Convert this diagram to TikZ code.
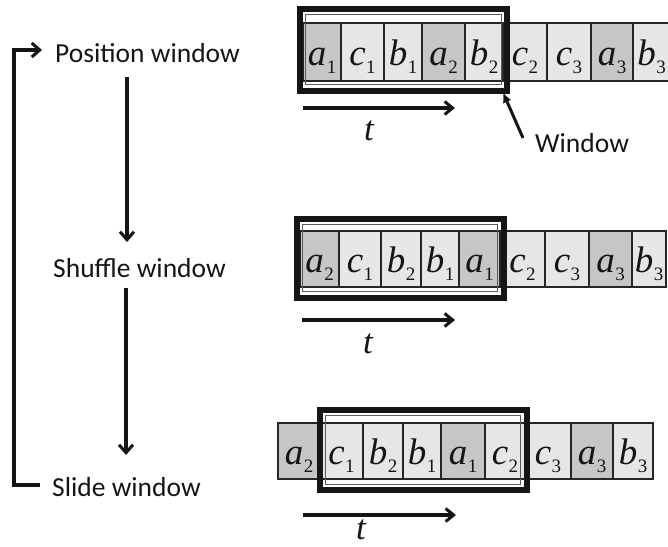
\documentclass[tikz,border=0pt]{standalone}
\usepackage{fontspec}
\setmainfont{Carlito}
\newfontfamily\cellfont{Liberation Serif}
\usetikzlibrary{arrows.meta,calc}

\definecolor{ink}{HTML}{151515}
\definecolor{cellline}{HTML}{262626}
\definecolor{cellA}{HTML}{C6C6C6}
\definecolor{cellB}{HTML}{E6E6E6}

% an item symbol: italic letter with an upright index below
\newcommand\itemsym[2]{{\cellfont\fontsize{37}{40}\selectfont\itshape #1}\kern0.5pt\raisebox{-8pt}{\cellfont\fontsize{19}{20}\selectfont #2}}

% one row of the sequence: name, top, bottom, list of left/right/letter/index/fill
\newcommand\seqrow[4]{%
  \foreach \l/\r/\v/\s/\f [count=\i] in {#4} {
    \node[cell, fill=\f, minimum width={(\r-\l)*1pt}, minimum height={(#3-#2)*1pt}]
      (#1c\i) at ({(\l+\r)/2},{(#2+#3)/2}) {};
    \node[sym, anchor=base] (#1s\i) at ({(\l+\r)/2},{(#2+#3)/2+13}) {\itemsym{\v}{\s}};
  }}

\tikzset{
  cell/.style={draw=cellline, line width=1.2pt, inner sep=0pt, outer sep=0pt},
  sym/.style={inner sep=0pt, text=ink},
  window/.style={draw=ink, line width=6pt, inner sep=0pt, outer sep=0pt},
  lbl/.style={inner sep=0pt, text=ink, font=\fontsize{27.5}{32}\selectfont},
  tlbl/.style={inner sep=0pt, text=ink, font=\cellfont\fontsize{35}{38}\selectfont\itshape},
  flow/.style={draw=ink, line width=3.2pt, -{Straight Barb[length=8pt,width=14pt,line width=3pt]}},
  tarrow/.style={draw=ink, line width=3.2pt, -{Straight Barb[length=8pt,width=13pt,line width=3pt]}},
  pointer/.style={draw=ink, line width=3pt, -{Latex[length=10pt,width=9pt]}},
}

% the window frame with its thin inner rule
\newcommand\windowframe[5]{%
  \node[window, minimum width={(#4-#2)*1pt}, minimum height={(#5-#3)*1pt}]
    (#1) at ({(#2+#4)/2},{(#3+#5)/2}) {};
  \draw[ink!70, line width=0.9pt] ($(#1.north west)+(6,6)$) rectangle ($(#1.south east)+(-6,-6)$);
}

\begin{document}
\begin{tikzpicture}[x=1pt, y=-1pt]
\useasboundingbox (0,0) rectangle (668,546);
\clip (0,0) rectangle (668,546);

% ---- steps on the left ----
\node[lbl, anchor=base west] (pos)   at (55,62)  {Position window};
\node[lbl, anchor=base west] (shuf)  at (53,277) {Shuffle window};
\node[lbl, anchor=base west] (slide) at (52,496) {Slide window};
\coordinate (axis) at (127,0);

\draw[flow] ($(pos.base -| axis)+(0,15)$) -- ($(shuf.base -| axis)+(0,-35)$);
\draw[flow] ($(shuf.base -| axis)+(-1,11)$) -- ($(slide.base -| axis)+(-1,-41)$);
\draw[flow, line join=miter] ($(slide.base west)+(-12,-11)$) -- ++(-26,0)
  |- ($(pos.base west)+(-13,-12)$);

% ---- row 1: window in its first position ----
\seqrow{ra}{23}{81}{303/341/a/1/cellA, 341/384/c/1/cellB, 384/422/b/1/cellB,
  422/465/a/2/cellA, 465/503/b/2/cellB, 503/547/c/2/cellB, 547/591/c/3/cellB,
  591/633/a/3/cellA, 633/670/b/3/cellB}
\windowframe{wa}{299.5}{8.5}{507}{90.5}
\coordinate (tas) at (303,108);
\coordinate (tae) at (455,108);
\draw[tarrow] (tas) -- (tae);
\node[tlbl, anchor=base] (ta) at (369,140) {t};

\node[lbl, anchor=base west] (winlbl) at (535,152) {Window};
\draw[pointer] ($(winlbl.base west)+(-12,-14)$) -- ($(wa.south east)+(-4,2)$);

% ---- row 2: window contents shuffled ----
\seqrow{rb}{231}{287}{300/339/a/2/cellA, 339/381/c/1/cellB, 381/421/b/2/cellB,
  421/459/b/1/cellB, 459/500/a/1/cellA, 500/545/c/2/cellB, 545/589/c/3/cellB,
  589/632/a/3/cellA, 632/666/b/3/cellB}
\windowframe{wb}{296.5}{218.5}{503.5}{297.5}
\coordinate (tbs) at (302,320);
\coordinate (tbe) at (455,320);
\draw[tarrow] (tbs) -- (tbe);
\node[tlbl, anchor=base] (tb) at (368,353) {t};

% ---- row 3: window slid by one item ----
\seqrow{rc}{423}{479}{278/320/a/2/cellA, 320/363/c/1/cellB, 363/403/b/2/cellB,
  403/441/b/1/cellB, 441/485/a/1/cellA, 485/525/c/2/cellB, 525/571/c/3/cellB,
  571/613/a/3/cellA, 613/653/b/3/cellB}
\windowframe{wc}{319.5}{409.5}{526.5}{490}
\coordinate (tcs) at (303,515);
\coordinate (tce) at (456,515);
\draw[tarrow] (tcs) -- (tce);
\node[tlbl, anchor=base] (tc) at (361,539) {t};
\end{tikzpicture}
\end{document}
